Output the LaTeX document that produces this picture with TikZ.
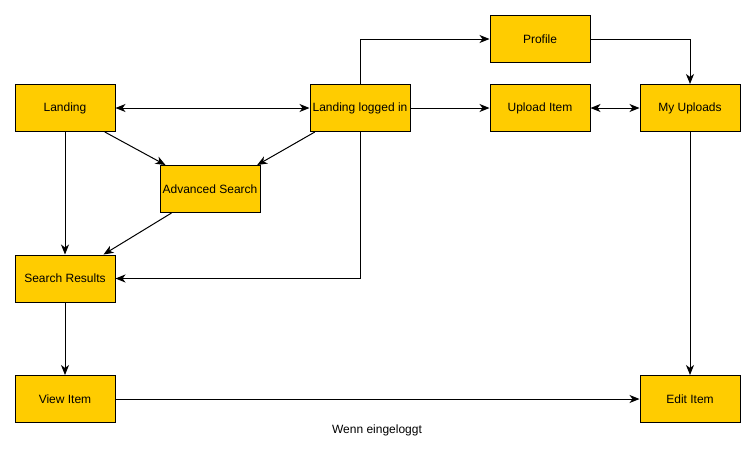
\documentclass[tikz,border=0pt]{standalone}
\usepackage{fontspec}
\setmainfont{Liberation Sans}
\usetikzlibrary{arrows.meta}
\definecolor{boxyellow}{HTML}{FFCC00}
\begin{document}
\begin{tikzpicture}[x=0.75pt,y=-0.75pt,>={Stealth[length=7.5pt,width=6pt,inset=2.2pt]},
    page/.style={draw,line width=0.75pt,fill=boxyellow,minimum width=75pt,minimum height=35.25pt,inner sep=0pt,font=\fontsize{9}{11}\selectfont},
    flow/.style={->,line width=0.75pt}]
            \useasboundingbox (0,0) rectangle (755,454);
            \node[page] (landing) at (65,108) {Landing};
            \node[page] (loggedin) at (360,108) {Landing logged in};
            \node[page] (profile) at (540,39) {Profile};
            \node[page] (upload) at (540,108) {Upload Item};
            \node[page] (myuploads) at (690,108) {My Uploads};
            \node[page] (advanced) at (210,189) {Advanced Search};
            \node[page] (results) at (65,278.5) {Search Results};
            \node[page] (view) at (65,399) {View Item};
            \node[page] (edit) at (690,399) {Edit Item};
            \node[font=\fontsize{9}{11}\selectfont] (note) at (377,430) {Wenn eingeloggt};
            \draw[flow,<->] (landing) -- (loggedin);
            \draw[flow] ([xshift=-8pt]landing.south east) -- ([xshift=4.5pt]advanced.north west);
            \draw[flow] ([xshift=4pt]loggedin.south west) -- ([xshift=-2.5pt]advanced.north east);
            \draw[flow] ([xshift=9pt]advanced.south west) -- ([xshift=-9pt]results.north east);
            \draw[flow] (landing) -- (results);
            \draw[flow] (loggedin.south) |- (results.east);
            \draw[flow] (loggedin.north) |- (profile.west);
            \draw[flow] (loggedin) -- (upload);
            \draw[flow,<->] (upload) -- (myuploads);
            \draw[flow] (profile.east) -| (myuploads.north);
            \draw[flow] (myuploads) -- (edit);
            \draw[flow] (results) -- (view);
            \draw[flow] (view) -- (edit);
        \end{tikzpicture}
\end{document}
